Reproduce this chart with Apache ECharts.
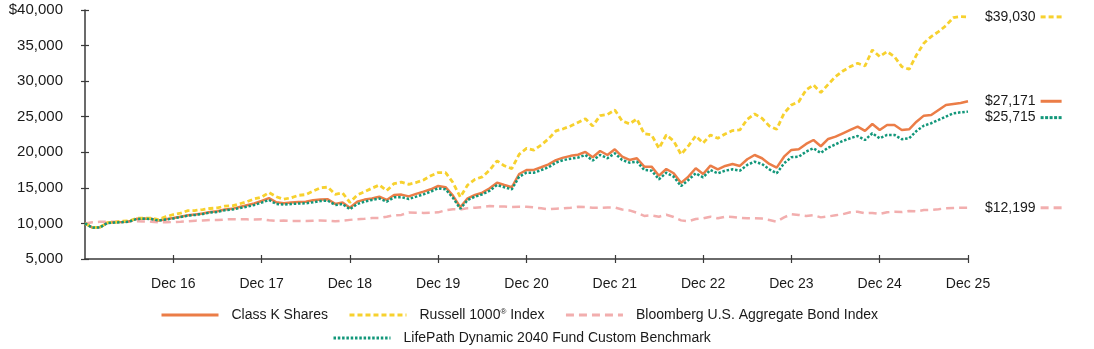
<!DOCTYPE html>
<html><head><meta charset="utf-8">
<script src="https://cdn.jsdelivr.net/npm/echarts@6/dist/echarts.min.js"></script>
<style>html,body{margin:0;padding:0;background:#fff}#c{width:1094px;height:349px}</style>
</head><body><div id="c"></div>
<script>
// Month-end observations, Dec 2015 .. Dec 2025
const monthNames = ['Jan','Feb','Mar','Apr','May','Jun','Jul','Aug','Sep','Oct','Nov','Dec'];
const firstYear = 15, lastYear = 25;
const categories = ['Dec ' + firstYear];
for (let y = firstYear + 1; y <= lastYear; y++) for (const m of monthNames) categories.push(m + ' ' + y);

const seriesNames = ['Class K Shares', 'Russell 1000\u00AE Index', 'Bloomberg U.S. Aggregate Bond Index', 'LifePath Dynamic 2040 Fund Custom Benchmark'];

const classK = [10000,9420,9450,10050,10150,10200,10280,10650,10700,10650,10420,10580,10750,
10950,11150,11250,11400,11600,11700,11950,12050,12300,12550,12800,13150,
13550,12970,12850,12950,13000,13050,13250,13350,13400,12750,12950,12200,
13060,13350,13500,13760,13300,14000,14050,13800,14150,14470,14800,15260,
15100,13900,12270,13530,14000,14320,14940,15730,15400,15080,16950,17510,
17520,17900,18300,18900,19250,19500,19650,20050,19300,20180,19620,20420,
19380,18920,19160,17980,17980,16710,17650,17050,15700,16570,17750,16950,
18120,17610,18080,18360,18080,19020,19620,19160,18360,17840,19380,20330,
20420,21170,21730,20850,21870,22200,22670,23140,23600,23000,23980,23140,
23840,23840,23140,23230,24300,25150,25250,25950,26650,26790,26930,27171];

const russell1000 = [10000,9450,9440,10100,10150,10330,10350,10730,10740,10740,10530,10950,11250,
11450,11800,11820,11950,12100,12180,12430,12470,12750,13050,13450,13700,
14350,13750,13400,13600,13950,14050,14550,15000,15100,14100,14300,12950,
14000,14450,14950,15400,14600,15600,15800,15500,15750,16100,16700,17150,
17150,15750,13700,15400,16200,16550,17500,18800,18100,17700,19700,20550,
20300,21030,21900,23000,23300,23700,24200,24700,23700,25150,25300,25950,
24400,24000,24680,22600,22440,20560,22440,21600,19700,20890,22300,21300,
22440,21970,22580,23050,23140,24640,25390,24780,23700,23230,25480,26650,
27120,28760,29460,28400,29560,30630,31430,32040,32510,32130,34390,33450,
34150,33450,32040,31670,33680,35330,36260,36960,37800,38930,39070,39030];

const bondAgg = [10000,10150,10230,10250,10250,10260,10300,10290,10280,10250,10170,10150,10200,
10240,10310,10390,10420,10480,10470,10550,10600,10580,10570,10560,10600,
10450,10350,10400,10330,10350,10340,10380,10420,10360,10300,10380,10500,
10600,10650,10750,10760,10950,11150,11200,11550,11500,11480,11500,11560,
11850,12000,11950,12150,12220,12300,12450,12400,12380,12320,12360,12340,
12250,12120,11980,12080,12110,12200,12330,12300,12200,12200,12250,12230,
11950,11830,11500,11060,11130,10950,11220,10900,10430,10300,10620,10700,
10950,10720,10950,10900,10780,10720,10720,10680,10480,10250,10850,11300,
11190,11050,11150,10850,10980,11150,11300,11560,11650,11420,11480,11340,
11560,11650,11600,11750,11700,11880,11900,12000,12130,12170,12200,12199];

const customBenchmark = [10000,9400,9430,10030,10130,10180,10250,10620,10670,10620,10400,10550,10700,
10900,11100,11200,11330,11520,11620,11850,11950,12150,12360,12600,12920,
13300,12730,12650,12730,12800,12830,12970,13150,13200,12590,12730,11990,
12730,13060,13300,13500,13060,13670,13700,13440,13760,14090,14470,14940,
14800,13600,12070,13295,13760,14090,14600,15400,15080,14800,16570,17130,
17130,17500,17900,18550,18900,19100,19250,19620,18830,19620,19160,19860,
18920,18540,18680,17510,17420,16200,17130,16570,15250,16110,17050,16480,
17510,17050,17420,17610,17420,18220,18680,18360,17610,17050,18450,19300,
19380,20090,20560,19900,20650,21120,21590,21970,22290,21730,22670,21970,
22440,22440,21830,21970,23000,23740,24080,24540,25010,25480,25620,25715];

const yTicks = {min: 5000, max: 40000, step: 5000};

const FONT = '"Liberation Sans", Arial, Helvetica, sans-serif';
const TXT = '#1a1a1a';
const AX = '#3a3a3a';
const COLORS = {k: '#EB7D47', r: '#F7D12E', b: '#F2AEAE', c: '#12977A'};

function fmt(v){ return v.toLocaleString('en-US'); }

// rich-text tokens for the little line sample after each end label
function endLabel(color, pattern, offsetY){
  const rich = {
    t: {fontSize: 14, fontFamily: FONT, color: TXT, lineHeight: 16},
    sp: {width: 5, height: 3},
    g1: {width: 1.5, height: 3}, g3: {width: 3, height: 3}, g5: {width: 5, height: 3}
  };
  let tail = '{sp|}';
  pattern.forEach((p) => {
    if (p[0] === 'd') {
      const key = 'd' + String(p[1]).replace('.', '_');
      rich[key] = {width: p[1], height: 3, backgroundColor: color};
      tail += '{' + key + '|}';
    } else {
      tail += '{g' + p[1] + '|}';
    }
  });
  return {
    show: true, distance: 17, offset: [0, offsetY || 0],
    formatter: (p) => '{t|$' + fmt(p.value) + '}' + tail,
    rich: rich
  };
}

const legendText = {
  fontSize: 14, color: TXT, fontFamily: FONT, padding: [0, 0, 0, 8],
  rich: {
    n: {fontSize: 14, color: TXT, fontFamily: FONT},
    sup: {fontSize: 8, color: TXT, fontFamily: FONT, verticalAlign: 'top', lineHeight: 14, padding: [0, 0, 6, 0]}
  }
};
const legendFormatter = (name) => {
  const i = name.indexOf('\u00AE');
  if (i < 0) return '{n|' + name + '}';
  return '{n|' + name.slice(0, i) + '}{sup|\u00AE}{n|' + name.slice(i + 1) + '}';
};

const chart = echarts.init(document.getElementById('c'), null, {renderer: 'canvas'});

const baseSeries = {
  type: 'line', showSymbol: false, symbol: 'none', smooth: false,
  xAxisIndex: 0, yAxisIndex: 0, animation: false, emphasis: {disabled: true}
};

const tickFilter = (i, v) => i > 0 && v.indexOf('Dec') === 0;
const legendItemStyle = {color: 'rgba(0,0,0,0)', borderWidth: 0, opacity: 0};

chart.setOption({
  animation: false,
  backgroundColor: '#fff',
  textStyle: {fontFamily: FONT},
  grid: {left: 85, right: 126, top: 10, bottom: 90, containLabel: false},
  legend: [
    {
      data: seriesNames.slice(0, 3), left: 155, top: 303, orient: 'horizontal',
      itemWidth: 57, itemHeight: 14, itemGap: 20,
      itemStyle: legendItemStyle, lineStyle: {width: 3},
      formatter: legendFormatter, textStyle: legendText,
      selectedMode: false
    },
    {
      data: seriesNames.slice(3), left: 327, top: 326,
      itemWidth: 57, itemHeight: 14,
      itemStyle: legendItemStyle, lineStyle: {width: 3},
      formatter: legendFormatter, textStyle: legendText,
      selectedMode: false
    }
  ],
  xAxis: [
    {
      type: 'category', data: categories, boundaryGap: false,
      axisLine: {show: true, lineStyle: {color: AX, width: 1.5}},
      axisTick: {show: true, length: 4, inside: false, lineStyle: {color: AX, width: 1.2}, interval: tickFilter},
      axisLabel: {show: true, fontSize: 14, color: TXT, fontFamily: FONT, margin: 18, interval: tickFilter},
      splitLine: {show: false}
    },
    {
      type: 'category', data: categories, boundaryGap: false, position: 'bottom',
      axisLine: {show: false},
      axisTick: {show: true, length: 4, inside: true, lineStyle: {color: AX, width: 1.2}, interval: tickFilter},
      axisLabel: {show: false}, splitLine: {show: false}
    }
  ],
  yAxis: [
    {
      type: 'value', min: yTicks.min, max: yTicks.max, interval: yTicks.step,
      axisLine: {show: true, lineStyle: {color: AX, width: 1.5}},
      axisTick: {show: true, length: 4, inside: false, lineStyle: {color: AX, width: 1.2}},
      axisLabel: {fontSize: 15, color: TXT, fontFamily: FONT, margin: 22,
        formatter: (v) => (v === yTicks.max ? '$' : '') + fmt(v)},
      splitLine: {show: false}
    },
    {
      type: 'value', min: yTicks.min, max: yTicks.max, interval: yTicks.step, position: 'left',
      axisLine: {show: false},
      axisTick: {show: true, length: 4, inside: true, lineStyle: {color: AX, width: 1.2}},
      axisLabel: {show: false}, splitLine: {show: false}
    }
  ],
  series: [
    Object.assign({}, baseSeries, {
      name: seriesNames[2], data: bondAgg, z: 2, color: COLORS.b,
      lineStyle: {color: COLORS.b, width: 2.5, type: [8, 5]},
      endLabel: endLabel(COLORS.b, [['d', 8], ['g', 5], ['d', 8]], 0)
    }),
    Object.assign({}, baseSeries, {
      name: seriesNames[0], data: classK, z: 3, color: COLORS.k,
      lineStyle: {color: COLORS.k, width: 2.5, type: 'solid'},
      endLabel: endLabel(COLORS.k, [['d', 21]], 0)
    }),
    Object.assign({}, baseSeries, {
      name: seriesNames[1], data: russell1000, z: 4, color: COLORS.r,
      lineStyle: {color: COLORS.r, width: 2.8, type: [5, 3]},
      endLabel: endLabel(COLORS.r, [['d', 5], ['g', 3], ['d', 5], ['g', 3], ['d', 5]], 0)
    }),
    Object.assign({}, baseSeries, {
      name: seriesNames[3], data: customBenchmark, z: 5, color: COLORS.c,
      lineStyle: {color: COLORS.c, width: 2.5, type: [2.5, 1.8]},
      endLabel: endLabel(COLORS.c, [['d', 3], ['g', 1], ['d', 3], ['g', 1], ['d', 3], ['g', 1], ['d', 3], ['g', 1], ['d', 3]], 6)
    })
  ]
});
</script></body></html>
